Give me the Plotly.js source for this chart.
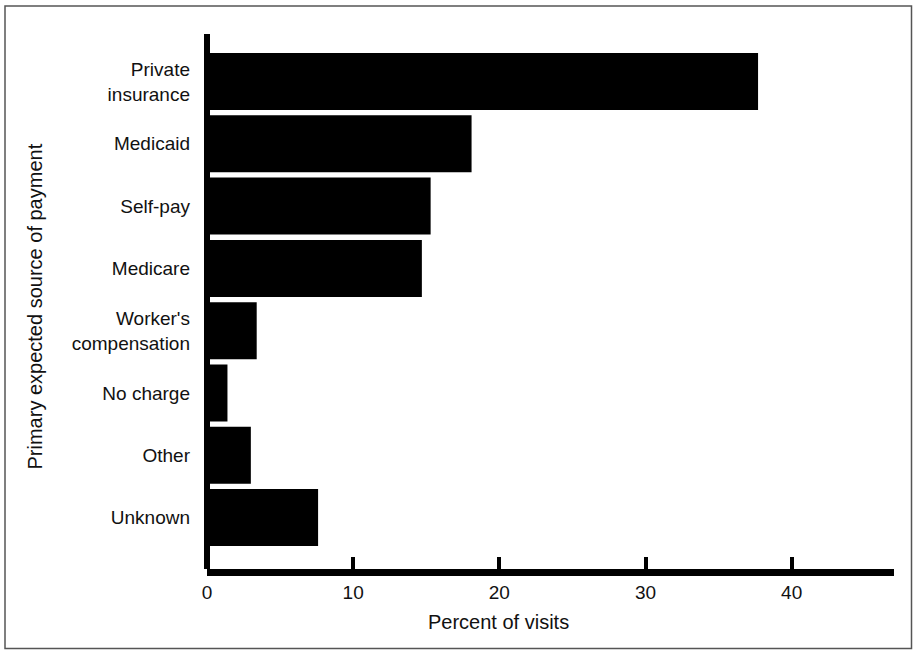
<!DOCTYPE html>
<html>
<head>
<meta charset="utf-8">
<script src="https://cdn.plot.ly/plotly-3.0.1.min.js"></script>
<style>
  html, body { margin: 0; padding: 0; background: #fff; }
  #chart { width: 913px; height: 650px; }
</style>
</head>
<body>
<div id="chart"></div>
<script>
// Categories, top to bottom
const categories = [
  "Private<br>insurance",
  "Medicaid",
  "Self-pay",
  "Medicare",
  "Worker's<br>compensation",
  "No charge",
  "Other",
  "Unknown"
];
// Percent of visits
const percentVisits = [37.7, 18.1, 15.3, 14.7, 3.4, 1.4, 3.0, 7.6];
const xTickValues = [0, 10, 20, 30, 40];
const xTickLabels = ["0", "10", "20", "30", "40"];
const xTitle = "Percent of visits";
const yTitle = "Primary expected source of payment";

const FONT = "'Liberation Sans', Arial, Helvetica, sans-serif";

const trace = {
  type: "bar",
  orientation: "h",
  y: categories,
  x: percentVisits,
  marker: { color: "#000000", line: { width: 0 } },
  hoverinfo: "x+y"
};

const L = 207, R = 19, T = 34, B = 81;
const PW = 913 - L - R, PH = 650 - T - B;

const layout = {
  width: 913,
  height: 650,
  margin: { l: L, r: R, t: T, b: B, pad: 0 },
  paper_bgcolor: "#ffffff",
  plot_bgcolor: "#ffffff",
  showlegend: false,
  bargap: 0.085,
  font: { family: FONT, color: "#111111", size: 19 },
  xaxis: {
    range: [0, 47],
    tickmode: "array",
    tickvals: xTickValues,
    ticktext: xTickLabels,
    ticks: "inside",
    ticklen: 12,
    tickwidth: 4,
    tickcolor: "#000000",
    showline: true,
    linewidth: 7,
    linecolor: "#000000",
    showgrid: false,
    zeroline: true,
    zerolinewidth: 6,
    zerolinecolor: "#000000",
    tickfont: { family: FONT, size: 19, color: "#111111" },
    fixedrange: true
  },
  yaxis: {
    type: "category",
    categoryorder: "array",
    categoryarray: categories,
    range: [7.826, -0.763],
    showline: false,
    ticks: "",
    showgrid: false,
    zeroline: false,
    ticklabelstandoff: 16,
    tickfont: { family: FONT, size: 19, color: "#111111" },
    fixedrange: true
  },
  annotations: [
    {
      text: xTitle,
      xref: "paper", yref: "paper",
      x: (498 - L) / PW, y: (569 - 622) / PH,
      xanchor: "center", yanchor: "middle",
      showarrow: false,
      font: { family: FONT, size: 20, color: "#111111" }
    },
    {
      text: yTitle,
      xref: "paper", yref: "paper",
      x: (34 - L) / PW, y: (569 - 306.5) / PH,
      xanchor: "center", yanchor: "middle",
      textangle: -90,
      showarrow: false,
      font: { family: FONT, size: 20, color: "#111111" }
    }
  ],
  shapes: [
    {
      type: "rect",
      xref: "paper", yref: "paper",
      x0: (5 - L) / PW, x1: (911.5 - L) / PW,
      y0: (569 - 648.5) / PH, y1: (569 - 6) / PH,
      line: { color: "#555555", width: 1.5 },
      fillcolor: "rgba(0,0,0,0)",
      layer: "below"
    }
  ]
};

Plotly.newPlot("chart", [trace], layout, { displayModeBar: false, staticPlot: true });
</script>
</body>
</html>
